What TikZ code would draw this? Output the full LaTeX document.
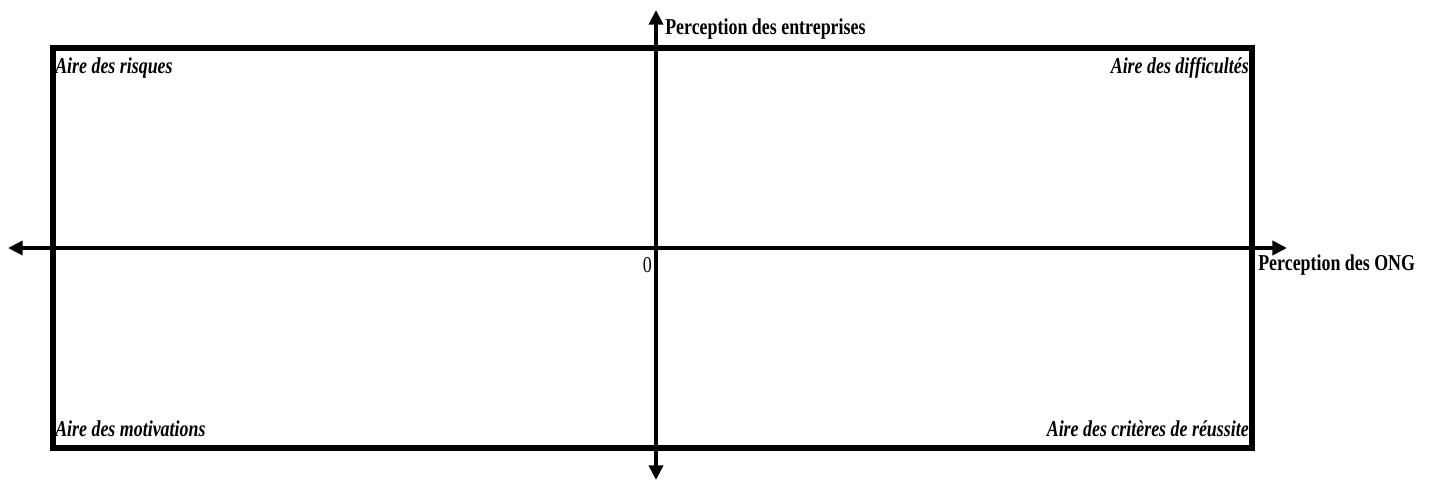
\documentclass[tikz,border=0pt]{standalone}
\usepackage{fontspec}
\setmainfont{Liberation Serif}
\usetikzlibrary{arrows.meta}
\tikzset{
  frame/.style={line width=4pt},
  axis/.style={line width=3.3pt, {Triangle[length=11pt,width=10.5pt]}-{Triangle[length=11pt,width=10.5pt]}},
  lbl/.style={inner sep=0pt, font=\fontsize{17}{17}\selectfont\bfseries},
  ilbl/.style={inner sep=0pt, font=\fontsize{17}{17}\selectfont\bfseries\itshape},
}
\newcommand{\cond}[1]{\scalebox{0.79}[1]{#1}}
\begin{document}
\begin{tikzpicture}[x=0.75pt,y=-0.75pt]
\useasboundingbox (0,0) rectangle (1431,482);
\draw[frame] (53,48) rectangle (1252,448);
\coordinate (ytop) at (656,10);
\coordinate (ybot) at (656,480);
\coordinate (xl) at (8,248);
\coordinate (xr) at (1287,248);
\draw[axis] (ybot) -- (ytop);
\draw[axis] (xl) -- (xr);
\node[lbl, anchor=base west] (pe) at (665,34) {\cond{Perception des entreprises}};
\node[lbl, anchor=base west] (po) at (1258,270) {\cond{Perception des ONG}};
\node[lbl, anchor=base east, font=\fontsize{17}{17}\selectfont] (zero) at (652,272) {\cond{0}};
\node[ilbl, anchor=base west] (ar) at (55,73) {\cond{Aire des risques}};
\node[ilbl, anchor=base east] (ad) at (1249,73) {\cond{Aire des difficultés}};
\node[ilbl, anchor=base west] (am) at (55,436) {\cond{Aire des motivations}};
\node[ilbl, anchor=base east] (ac) at (1249,436) {\cond{Aire des critères de réussite}};
\end{tikzpicture}
\end{document}
